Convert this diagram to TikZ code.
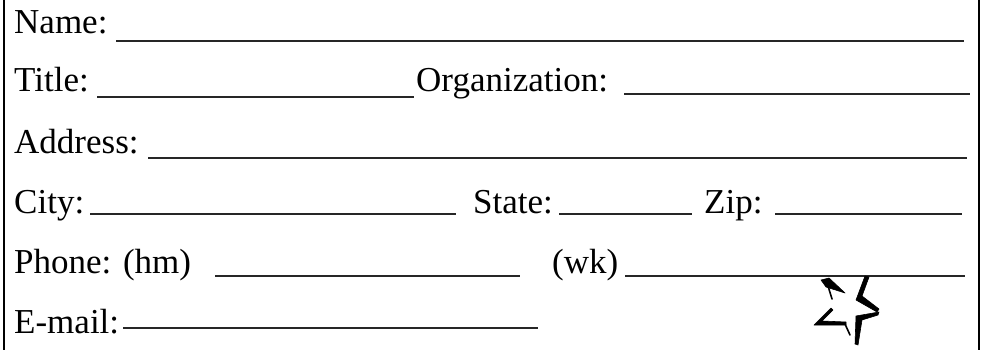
\documentclass[tikz,border=0pt]{standalone}
\usepackage{fontspec}
\setmainfont{Liberation Serif}
\begin{document}
\begin{tikzpicture}[x=1pt,y=-1pt,
  lbl/.style={anchor=base west,inner sep=0pt,font=\fontsize{35}{42}\selectfont},
  fill line/.style={line width=1.4pt,draw=black!85},
  border/.style={line width=1.6pt,draw=black},
  brush/.style={fill=black,draw=black,line width=0.6pt,line join=round},
  thin brush/.style={line width=1.6pt,line cap=round}]
\useasboundingbox (0,0) rectangle (981,350);
% borders
\draw[border] (4,0) -- (4,350);
\draw[border] (979,0) -- (979,350);
% row 1
\node[lbl] (name) at (14,34) {Name:};
\draw[fill line] (116,41) -- (964,41);
% row 2
\node[lbl] (title) at (14,92) {Title:};
\draw[fill line] (97,97) -- (414,97);
\node[lbl] (org) at (416,92) {Organization:};
\draw[fill line] (624,94) -- (970,94);
% row 3
\node[lbl] (addr) at (14,153) {Address:};
\draw[fill line] (148,158) -- (967,158);
% row 4
\node[lbl] (city) at (14,213) {City:};
\draw[fill line] (90,214) -- (456,214);
\node[lbl] (state) at (473,213) {State:};
\draw[fill line] (559,214) -- (692,214);
\node[lbl] (zip) at (704,213) {Zip:};
\draw[fill line] (775,214) -- (962,214);
% row 5
\node[lbl] (phone) at (14,273) {Phone: (hm)};
\draw[fill line] (215,276) -- (520,276);
\node[lbl] (wk) at (552,273) {(wk)};
\draw[fill line] (625,276) -- (965,276);
% row 6
\node[lbl] (email) at (14,333) {E-mail:};
\draw[fill line] (123,328) -- (538,328);
% star (brush strokes)
\filldraw[brush] (821,280) -- (829,278) -- (845,293) -- (826,287) -- cycle;
\draw[thin brush] (828,286) -- (832,299);
\filldraw[brush] (865,276) -- (869,277) -- (862,296) -- (879,309) -- (877,312) -- (856,300) -- cycle;
\filldraw[brush] (879,312) -- (878,315) -- (862,320) -- (858,345) -- (855,344) -- (856,316) -- cycle;
\filldraw[brush] (831,308) -- (833,310) -- (822,321) -- (846,322) -- (846,325) -- (814,325) -- cycle;
\draw[thin brush] (845,324) -- (850,335);
\end{tikzpicture}
\end{document}
